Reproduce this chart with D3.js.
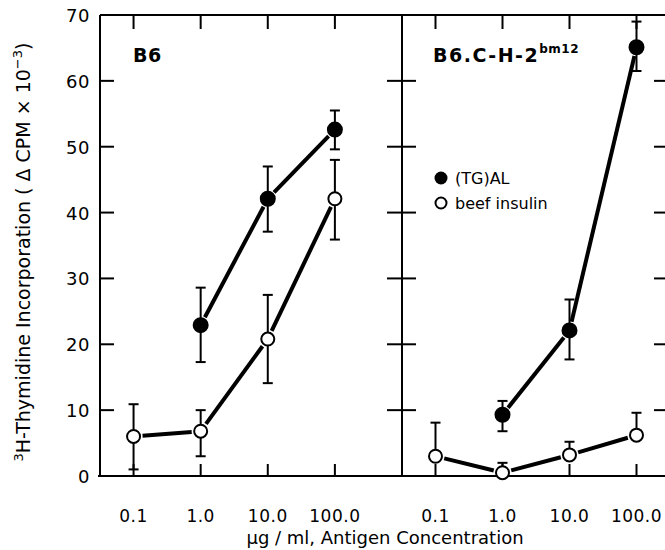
<!DOCTYPE html>
<html>
<head>
<meta charset="utf-8">
<script src="https://cdn.jsdelivr.net/npm/d3@7"></script>
<style>
  body { margin: 0; background: #fff; }
  text { font-family: "DejaVu Sans", "Liberation Sans", Arial, sans-serif; fill: #000; }
</style>
</head>
<body>
<svg id="chart"></svg>
<script>
// antigen concentrations (ug/ml)
var conc = [0.1, 1, 10, 100];
var conc_labels = ["0.1", "1.0", "10.0", "100.0"];
var y_ticks = [0, 10, 20, 30, 40, 50, 60, 70];

// B6 panel
var b6_tgal = [null, 22.9, 42.1, 52.6],
  b6_tgal_lo = [null, 17.3, 37.1, 49.6],
  b6_tgal_hi = [null, 28.6, 47.0, 55.5];
var b6_beef = [6.0, 6.8, 20.8, 42.1],
  b6_beef_lo = [1.0, 3.0, 14.1, 35.9],
  b6_beef_hi = [10.9, 10.0, 27.5, 48.0];

// B6.C-H-2bm12 panel
var bm12_tgal = [null, 9.3, 22.1, 65.1],
  bm12_tgal_lo = [null, 6.8, 17.7, 61.5],
  bm12_tgal_hi = [null, 11.4, 26.8, 69.0];
var bm12_beef = [3.0, 0.5, 3.2, 6.2],
  bm12_beef_lo = [null, null, null, null],
  bm12_beef_hi = [8.1, 2.0, 5.2, 9.6];

var W = 665, H = 550;
var svg = d3.select("#chart").attr("width", W).attr("height", H);

var top_y = 15, bot_y = 476;
var yScale = d3.scaleLinear().domain([0, 70]).range([bot_y, top_y]);

var left0 = 100, mid = 402, right1 = 670;
var xLeft = d3.scaleLog().domain([Math.pow(10, -1.5), 1000]).range([left0, mid]);
var xRight = d3.scaleLog().domain([Math.pow(10, -1.5), Math.pow(10, 2.5)]).range([mid, right1]);

var r = 6.5;

// frame
var frame = svg.append("g").attr("stroke", "#000").attr("stroke-width", 2).attr("fill", "none");
frame.append("line").attr("x1", left0).attr("x2", right1).attr("y1", top_y).attr("y2", top_y);
frame.append("line").attr("x1", left0 - 2).attr("x2", right1).attr("y1", bot_y).attr("y2", bot_y);
frame.append("line").attr("x1", left0).attr("x2", left0).attr("y1", top_y).attr("y2", bot_y);
frame.append("line").attr("x1", mid).attr("x2", mid).attr("y1", top_y).attr("y2", bot_y);
frame.append("line").attr("x1", right1).attr("x2", right1).attr("y1", top_y).attr("y2", bot_y);

// y ticks
var inner = y_ticks.filter(function (d) { return d > 0 && d < 70; });
inner.forEach(function (d) {
  var y = yScale(d);
  frame.append("line").attr("x1", left0).attr("x2", left0 + 14).attr("y1", y).attr("y2", y);
  frame.append("line").attr("x1", mid - 15).attr("x2", mid + 14).attr("y1", y).attr("y2", y);
  frame.append("line").attr("x1", right1 - 16).attr("x2", right1).attr("y1", y).attr("y2", y);
});

svg.append("g").selectAll("text").data(y_ticks).enter().append("text")
  .attr("x", 90).attr("y", function (d) { return yScale(d) + 7; })
  .attr("text-anchor", "end").attr("font-size", "18px").attr("letter-spacing", "0.5px")
  .text(function (d) { return d; });

// x ticks for both panels
[xLeft, xRight].forEach(function (xs) {
  conc.forEach(function (c, i) {
    var x = xs(c);
    frame.append("line").attr("x1", x).attr("x2", x).attr("y1", top_y).attr("y2", top_y + 14);
    frame.append("line").attr("x1", x).attr("x2", x).attr("y1", bot_y).attr("y2", bot_y - 12);
    svg.append("text").attr("x", x).attr("y", 522)
      .attr("text-anchor", "middle").attr("font-size", "17px").attr("letter-spacing", "0.5px")
      .text(conc_labels[i]);
  });
});

// series drawing
function drawSeries(xs, vals, lo, hi, filled) {
  var g = svg.append("g");
  var pts = [];
  vals.forEach(function (v, i) {
    if (v !== null) pts.push({ x: xs(conc[i]), y: yScale(v), lo: lo[i], hi: hi[i] });
  });
  // connecting segments with small gaps at markers
  for (var k = 0; k < pts.length - 1; k++) {
    var a = pts[k], b = pts[k + 1];
    var dx = b.x - a.x, dy = b.y - a.y, len = Math.sqrt(dx * dx + dy * dy);
    var gap = r + 2.5;
    g.append("line")
      .attr("x1", a.x + dx / len * gap).attr("y1", a.y + dy / len * gap)
      .attr("x2", b.x - dx / len * gap).attr("y2", b.y - dy / len * gap)
      .attr("stroke", "#000").attr("stroke-width", 4);
  }
  // error bars
  pts.forEach(function (p) {
    var top = p.hi !== null ? yScale(p.hi) : p.y;
    var bot = p.lo !== null ? yScale(p.lo) : p.y;
    g.append("line").attr("x1", p.x).attr("x2", p.x).attr("y1", top).attr("y2", bot)
      .attr("stroke", "#000").attr("stroke-width", 2);
    if (p.hi !== null)
      g.append("line").attr("x1", p.x - 5).attr("x2", p.x + 5).attr("y1", top).attr("y2", top)
        .attr("stroke", "#000").attr("stroke-width", 2);
    if (p.lo !== null)
      g.append("line").attr("x1", p.x - 5).attr("x2", p.x + 5).attr("y1", bot).attr("y2", bot)
        .attr("stroke", "#000").attr("stroke-width", 2);
  });
  // markers
  g.selectAll("circle").data(pts).enter().append("circle")
    .attr("cx", function (d) { return d.x; })
    .attr("cy", function (d) { return d.y; })
    .attr("r", filled ? r + 0.5 : r)
    .attr("fill", filled ? "#000" : "#fff")
    .attr("stroke", "#000").attr("stroke-width", 2);
}

drawSeries(xLeft, b6_beef, b6_beef_lo, b6_beef_hi, false);
drawSeries(xLeft, b6_tgal, b6_tgal_lo, b6_tgal_hi, true);
drawSeries(xRight, bm12_beef, bm12_beef_lo, bm12_beef_hi, false);
drawSeries(xRight, bm12_tgal, bm12_tgal_lo, bm12_tgal_hi, true);

// panel titles
svg.append("text").attr("x", 133).attr("y", 62).attr("font-size", "19px").attr("font-weight", "bold")
  .attr("letter-spacing", "0.5px").text("B6");
var t2 = svg.append("text").attr("x", 433).attr("y", 62).attr("font-size", "19px").attr("font-weight", "bold")
  .attr("letter-spacing", "1.5px");
t2.append("tspan").text("B6.C-H-2");
t2.append("tspan").attr("dy", -9).attr("font-size", "12px").attr("letter-spacing", "0.5px").text("bm12");

// legend
var legend = svg.append("g");
legend.append("circle").attr("cx", 441).attr("cy", 178).attr("r", 6.5).attr("fill", "#000");
legend.append("text").attr("x", 455).attr("y", 184).attr("font-size", "16px").text("(TG)AL");
legend.append("circle").attr("cx", 441).attr("cy", 203).attr("r", 5.5)
  .attr("fill", "#fff").attr("stroke", "#000").attr("stroke-width", 2);
legend.append("text").attr("x", 455).attr("y", 209).attr("font-size", "16px").text("beef insulin");

// axis titles
var yl = svg.append("text")
  .attr("transform", "translate(30," + 252 + ") rotate(-90)")
  .attr("text-anchor", "middle").attr("font-size", "19px");
yl.append("tspan").attr("font-size", "13px").attr("dy", -7).text("3");
yl.append("tspan").attr("dy", 7).text("H-Thymidine Incorporation ( \u0394 CPM \u00d7 10");
yl.append("tspan").attr("font-size", "13px").attr("dy", -8).text("\u22123");
yl.append("tspan").attr("dy", 8).text(")");

svg.append("text").attr("x", 385).attr("y", 544).attr("text-anchor", "middle")
  .attr("font-size", "18px").text("\u03bcg / ml,  Antigen Concentration");
</script>
</body>
</html>
